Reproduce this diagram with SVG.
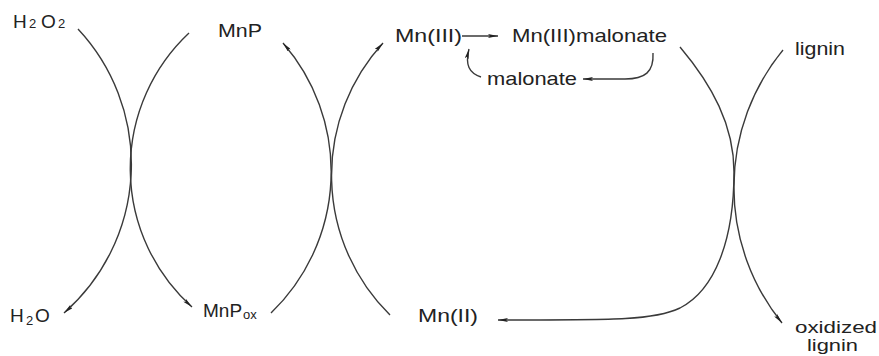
<svg xmlns="http://www.w3.org/2000/svg" width="879" height="356" viewBox="0 0 879 356">
<defs>
<style>
.t{font-family:"Liberation Sans",Arial,sans-serif;font-size:19px;fill:#222}
.s{font-size:13px}
.c{fill:none;stroke:#3a3a3a;stroke-width:1.4}
</style>
<marker id="ah" markerUnits="userSpaceOnUse" viewBox="0 0 10 4" refX="10" refY="2" markerWidth="10" markerHeight="4" orient="auto">
<path d="M0,0 L10,2 L0,4 L2,2 z" fill="#222"/>
</marker>
</defs>
<rect width="879" height="356" fill="#fff"/>
<g id="connectors">
<path class="c" d="M78,29 A198,198 0 0,1 64,313" marker-end="url(#ah)"/>
<path class="c" d="M189,33 A186,186 0 0,0 192,307" marker-end="url(#ah)"/>
<path class="c" d="M271,313 A196,196 0 0,0 283,43" marker-end="url(#ah)"/>
<path class="c" d="M390,315 A196,196 0 0,1 383,43" marker-end="url(#ah)"/>
<path class="c" d="M680,47 C712,85 734,125 734,172 C734,240 715,290 680,308 C655,320 620,320 498,320" marker-end="url(#ah)"/>
<path class="c" d="M783,50 A216,216 0 0,0 782,323" marker-end="url(#ah)"/>
<path class="c" d="M462,36 L498,36" marker-end="url(#ah)"/>
<path class="c" d="M653,53 C654,72 645,79 625,79 L583,79" marker-end="url(#ah)"/>
<path class="c" d="M481,77 C469,73 465,65 469,49" marker-end="url(#ah)"/>
</g>
<g id="h2o2"><text class="t" x="13" y="28">H<tspan class="s" x="29">2</tspan><tspan x="41">O</tspan><tspan class="s" x="58">2</tspan></text></g>
<g id="mnp"><text class="t" x="218" y="37" textLength="44" lengthAdjust="spacingAndGlyphs">MnP</text></g>
<g id="mn3"><text class="t" x="395" y="42" textLength="67" lengthAdjust="spacingAndGlyphs">Mn(III)</text></g>
<g id="mn3mal"><text class="t" x="512" y="42" textLength="155" lengthAdjust="spacingAndGlyphs">Mn(III)malonate</text></g>
<g id="malonate"><text class="t" x="487" y="85" textLength="90" lengthAdjust="spacingAndGlyphs">malonate</text></g>
<g id="lignin"><text class="t" x="795" y="55" textLength="50" lengthAdjust="spacingAndGlyphs">lignin</text></g>
<g id="h2o"><text class="t" x="10" y="322">H<tspan class="s" x="26" y="325">2</tspan><tspan x="35" y="322">O</tspan></text></g>
<g id="mnpox"><text class="t" x="203" y="317">MnP<tspan class="s" x="243" y="319">ox</tspan></text></g>
<g id="mn2"><text class="t" x="418" y="322" textLength="60" lengthAdjust="spacingAndGlyphs">Mn(II)</text></g>
<g id="oxlignin"><text class="t" x="795" y="333" textLength="82" lengthAdjust="spacingAndGlyphs" style="font-size:16px">oxidized</text><text class="t" x="807" y="351" textLength="51" lengthAdjust="spacingAndGlyphs" style="font-size:16px">lignin</text></g>
</svg>
